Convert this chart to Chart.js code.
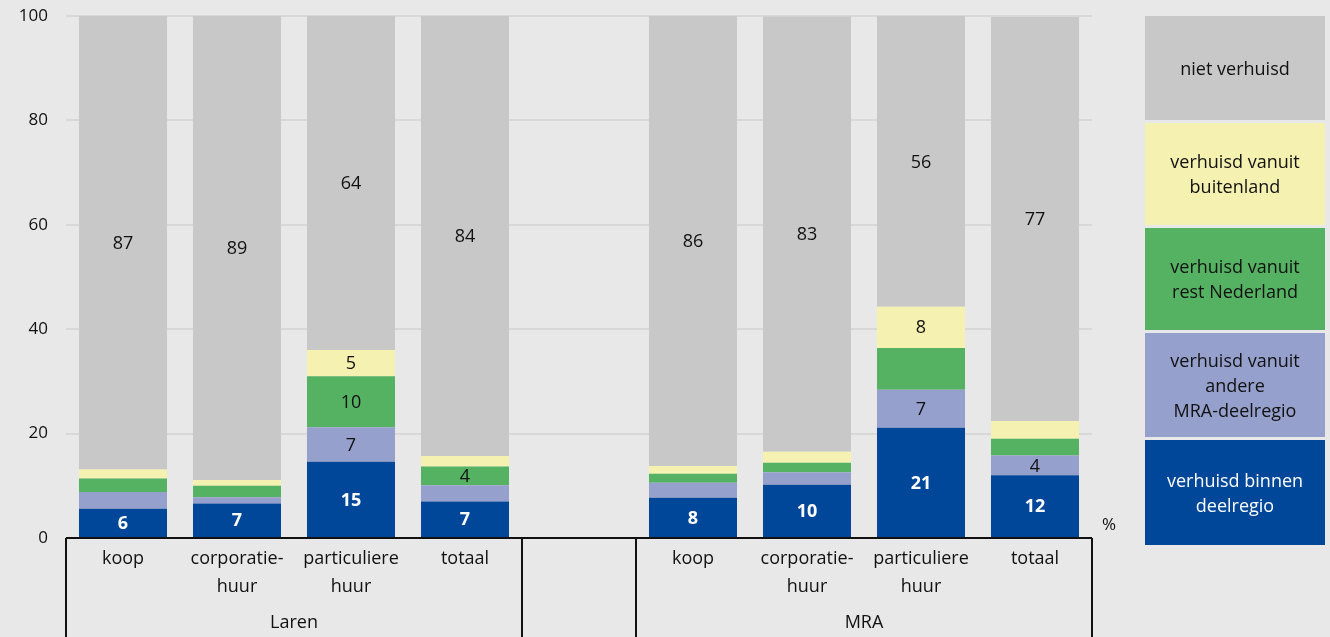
<!DOCTYPE html>
<html>
<head>
<meta charset="utf-8" />
<title>Verhuisd naar woning</title>
<style>
  body { margin: 0; background: #e8e8e8; }
  #wrap { position: relative; width: 1330px; height: 637px; }
  #legend { position: absolute; left: 1145px; top: 16px; width: 180px; }
  .item { display: flex; align-items: center; justify-content: center; text-align: center;
          font: 18px "Open Sans", sans-serif; line-height: 25px; color: #111; margin-bottom: 3px; }
</style>
</head>
<body>
<div id="wrap">
  <canvas id="chart" width="1330" height="637"></canvas>
  <div id="legend"></div>
</div>
<script src="https://cdn.jsdelivr.net/npm/chart.js@4.4.1/dist/chart.umd.min.js"></script>
<script>
// categories, per slot (slot 4 is the empty gap between the two groups)
var subLabels = [['koop'], ['corporatie-', 'huur'], ['particuliere', 'huur'], ['totaal'], [],
                 ['koop'], ['corporatie-', 'huur'], ['particuliere', 'huur'], ['totaal']];
var groups = ['Laren', 'MRA'];
var groupSlots = [[0, 3], [5, 8]];

// series, bottom to top
var binnen     = [5.6, 6.6, 14.6, 7.0, null, 7.7, 10.2, 21.1, 12.0];
var andere     = [3.2, 1.2, 6.6, 3.1, null, 2.9, 2.4, 7.3, 3.8];
var rest       = [2.6, 2.2, 9.8, 3.6, null, 1.7, 1.8, 8.0, 3.2];
var buitenland = [1.7, 1.1, 5.0, 2.0, null, 1.5, 2.1, 7.9, 3.4];
var niet       = [86.9, 88.9, 64.0, 84.3, null, 86.2, 83.4, 55.7, 77.4];

// which segments carry a value label
var lblBinnen     = [1, 1, 1, 1, 0, 1, 1, 1, 1];
var lblAndere     = [0, 0, 1, 0, 0, 0, 0, 1, 1];
var lblRest       = [0, 0, 1, 1, 0, 0, 0, 0, 0];
var lblBuitenland = [0, 0, 1, 0, 0, 0, 0, 1, 0];
var lblNiet       = [1, 1, 1, 1, 0, 1, 1, 1, 1];

var yTicks = [0, 20, 40, 60, 80, 100];

var seriesNames = ['verhuisd binnen deelregio', 'verhuisd vanuit andere MRA-deelregio',
                   'verhuisd vanuit rest Nederland', 'verhuisd vanuit buitenland', 'niet verhuisd'];
var legendLines = [['verhuisd binnen', 'deelregio'], ['verhuisd vanuit', 'andere', 'MRA-deelregio'],
                   ['verhuisd vanuit', 'rest Nederland'], ['verhuisd vanuit', 'buitenland'], ['niet verhuisd']];
var colors = ['#004699', '#96a0cd', '#55b262', '#f5f1b0', '#c8c8c8'];
var textColors = ['#fff', '#111', '#111', '#111', '#111'];

var seriesData = [binnen, andere, rest, buitenland, niet];
var seriesLbl = [lblBinnen, lblAndere, lblRest, lblBuitenland, lblNiet];

// legend boxes, top = last series
var legendHeights = [105, 104, 102, 102, 104];
var leg = document.getElementById('legend');
for (var k = seriesNames.length - 1; k >= 0; k--) {
    var d = document.createElement('div');
    d.className = 'item';
    d.style.background = colors[k];
    d.style.color = textColors[k];
    d.style.height = legendHeights[k] + 'px';
    d.innerHTML = legendLines[k].join('<br>');
    leg.appendChild(d);
}

var extras = {
    id: 'extras',
    afterDatasetsDraw: function(chart) {
        var ctx = chart.ctx;
        ctx.save();
        ctx.textAlign = 'center';
        ctx.textBaseline = 'middle';
        chart.data.datasets.forEach(function(ds, i) {
            var meta = chart.getDatasetMeta(i);
            meta.data.forEach(function(bar, j) {
                if (!seriesLbl[i][j] || ds.data[j] == null) return;
                ctx.fillStyle = textColors[i];
                ctx.font = (i === 0 ? 'bold ' : '') + '18px "Open Sans", sans-serif';
                ctx.fillText(Math.round(ds.data[j]), bar.x, (bar.y + bar.base) / 2 + 1);
            });
        });
        ctx.restore();
    },
    afterDraw: function(chart) {
        var ctx = chart.ctx, a = chart.chartArea;
        var slot = a.width / subLabels.length;
        var bottom = chart.height;
        ctx.save();
        ctx.strokeStyle = '#111';
        ctx.lineWidth = 2;
        ctx.beginPath();
        ctx.moveTo(a.left, a.bottom);
        ctx.lineTo(a.right, a.bottom);
        var edges = [0, 4, 5, 9];
        edges.forEach(function(e) {
            var x = Math.round(a.left + e * slot);
            ctx.moveTo(x, a.bottom);
            ctx.lineTo(x, bottom);
        });
        ctx.stroke();

        ctx.fillStyle = '#111';
        ctx.textAlign = 'center';
        ctx.textBaseline = 'middle';
        ctx.font = '18px "Open Sans", sans-serif';
        subLabels.forEach(function(lines, j) {
            var x = chart.scales.x.getPixelForValue(j);
            lines.forEach(function(t, n) {
                ctx.fillText(t, x, a.bottom + 21 + n * 28);
            });
        });
        groups.forEach(function(g, n) {
            var x0 = a.left + groupSlots[n][0] * slot;
            var x1 = a.left + (groupSlots[n][1] + 1) * slot;
            ctx.fillText(g, (x0 + x1) / 2, a.bottom + 85);
        });
        ctx.font = '17px "Open Sans", sans-serif';
        ctx.fillText('%', a.right + 17, a.bottom - 13);
        ctx.restore();
    }
};

new Chart(document.getElementById('chart'), {
    type: 'bar',
    data: {
        labels: subLabels.map(function(l) { return l.join(' '); }),
        datasets: seriesNames.map(function(name, i) {
            return {
                label: name,
                data: seriesData[i],
                backgroundColor: colors[i],
                borderWidth: 0,
                barPercentage: 0.772,
                categoryPercentage: 1
            };
        })
    },
    options: {
        responsive: false,
        animation: false,
        layout: { padding: { top: 16, right: 238, bottom: 99, left: 0 } },
        plugins: { legend: { display: false }, tooltip: { enabled: false } },
        scales: {
            x: { stacked: true, display: false },
            y: {
                stacked: true,
                min: 0,
                max: 100,
                afterFit: function(s) { s.width = 66; s.paddingTop = 0; s.paddingBottom = 0; },
                afterBuildTicks: function(s) { s.ticks = yTicks.map(function(v) { return { value: v }; }); },
                ticks: { color: '#111', padding: 18, font: { size: 17, family: '"Open Sans", sans-serif' } },
                grid: { color: '#d8d8d8', lineWidth: 2, drawTicks: false },
                border: { display: false }
            }
        }
    },
    plugins: [extras]
});
</script>
</body>
</html>
